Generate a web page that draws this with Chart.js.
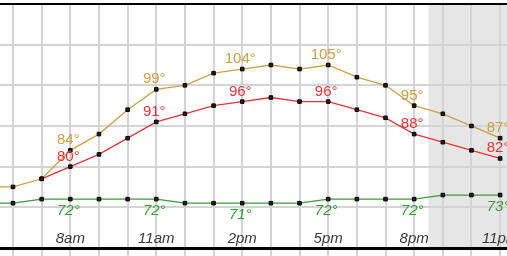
<!DOCTYPE html>
<html>
<head>
<meta charset="utf-8">
<script src="https://cdn.jsdelivr.net/npm/chart.js@4"></script>
<style>
  html, body { margin: 0; padding: 0; background: #fff; }
  canvas { display: block; }
</style>
</head>
<body>
<canvas id="grafico" width="507" height="256"></canvas>
<script>
// Datos por hora
const horas       = [5, 6, 7, 8, 9, 10, 11, 12, 13, 14, 15, 16, 17, 18, 19, 20, 21, 22, 23];
const temperatura = [75, 75, 77, 84, 88, 94, 99, 100, 103, 104, 105, 104, 105, 102, 100, 95, 93, 90, 87];
const sensacion   = [null, null, 77, 80, 83, 87, 91, 93, 95, 96, 97, 96, 96, 94, 92, 88, 86, 84, 82];
const rocio       = [71, 71, 72, 72, 72, 72, 72, 71, 71, 71, 71, 71, 72, 72, 72, 72, 73, 73, 73];

// Horas con etiqueta y texto del eje
const horasEtiqueta = [8, 11, 14, 17, 20, 23];
const textosEje     = ['8am', '11am', '2pm', '5pm', '8pm', '11pm'];
const inicioNoche   = 20.5;

const COLOR_TEMP  = '#c9a048';
const COLOR_SENS  = '#e2343c';
const COLOR_ROCIO = '#3c9c3c';
const FUENTE      = 'Arial, "Liberation Sans", sans-serif';

function _puntos(valores) {
    return horas.map((h, i) => ({ x: h, y: valores[i] }));
}

function _serie(label, valores, color) {
    return {
        label,
        data: _puntos(valores),
        borderColor: color,
        borderWidth: 1.3,
        pointStyle: 'rect',
        pointRadius: 2.5,
        pointBorderWidth: 1,
        pointBackgroundColor: '#222',
        pointBorderColor: '#000',
        tension: 0
    };
}

const decoracion = {
    id: 'decoracion',
    beforeDraw(chart) {
        const { ctx, scales: { x } } = chart;
        ctx.save();
        ctx.fillStyle = '#e6e6e6';
        const x0 = x.getPixelForValue(inicioNoche);
        ctx.fillRect(x0, 5, chart.width - x0, 242);
        ctx.restore();
    },
    afterDatasetsDraw(chart) {
        const { ctx, scales: { x, y } } = chart;
        ctx.save();

        // bordes superior e inferior
        ctx.fillStyle = '#fff';
        ctx.fillRect(0, 0, chart.width, 3);
        ctx.fillStyle = '#000';
        ctx.fillRect(0, 3, chart.width, 2);
        ctx.fillRect(0, 247, chart.width, 3);

        // etiquetas de valores
        ctx.textAlign = 'center';
        ctx.textBaseline = 'alphabetic';
        horasEtiqueta.forEach(h => {
            const i = horas.indexOf(h);
            const px = x.getPixelForValue(h) - 2;
            ctx.font = `15px ${FUENTE}`;
            ctx.fillStyle = COLOR_TEMP;
            ctx.fillText(temperatura[i] + '°', px, y.getPixelForValue(temperatura[i]) - 6);
            ctx.fillStyle = COLOR_SENS;
            ctx.fillText(sensacion[i] + '°', px, y.getPixelForValue(sensacion[i]) - 6);
            ctx.font = `italic 15px ${FUENTE}`;
            ctx.fillStyle = COLOR_ROCIO;
            ctx.fillText(rocio[i] + '°', px, y.getPixelForValue(rocio[i]) + 16);
        });

        // texto del eje x
        ctx.font = `italic 15px ${FUENTE}`;
        ctx.fillStyle = '#3a3a3a';
        horasEtiqueta.forEach((h, i) => {
            ctx.fillText(textosEje[i], x.getPixelForValue(h), 243);
        });
        ctx.restore();
    }
};

new Chart(document.getElementById('grafico'), {
    type: 'line',
    data: {
        datasets: [
            _serie('Rocío', rocio, COLOR_ROCIO),
            _serie('Sensación', sensacion, COLOR_SENS),
            _serie('Temperatura', temperatura, COLOR_TEMP)
        ]
    },
    options: {
        responsive: false,
        animation: false,
        layout: { padding: 0, autoPadding: false },
        plugins: { legend: { display: false }, tooltip: { enabled: false } },
        scales: {
            x: {
                type: 'linear',
                min: 5.546,
                max: 23.24,
                afterBuildTicks: scale => {
                    scale.ticks = horas.filter(h => h >= scale.min && h <= scale.max).map(h => ({ value: h }));
                },
                ticks: { display: false },
                grid: { color: '#d4d4d4', lineWidth: 2, drawTicks: false },
                border: { display: false }
            },
            y: {
                min: 58,
                max: 121,
                afterBuildTicks: scale => {
                    scale.ticks = [70, 80, 90, 100, 110].map(v => ({ value: v }));
                },
                ticks: { display: false },
                grid: { color: '#d4d4d4', lineWidth: 2, drawTicks: false },
                border: { display: false }
            }
        }
    },
    plugins: [decoracion]
});
</script>
</body>
</html>
